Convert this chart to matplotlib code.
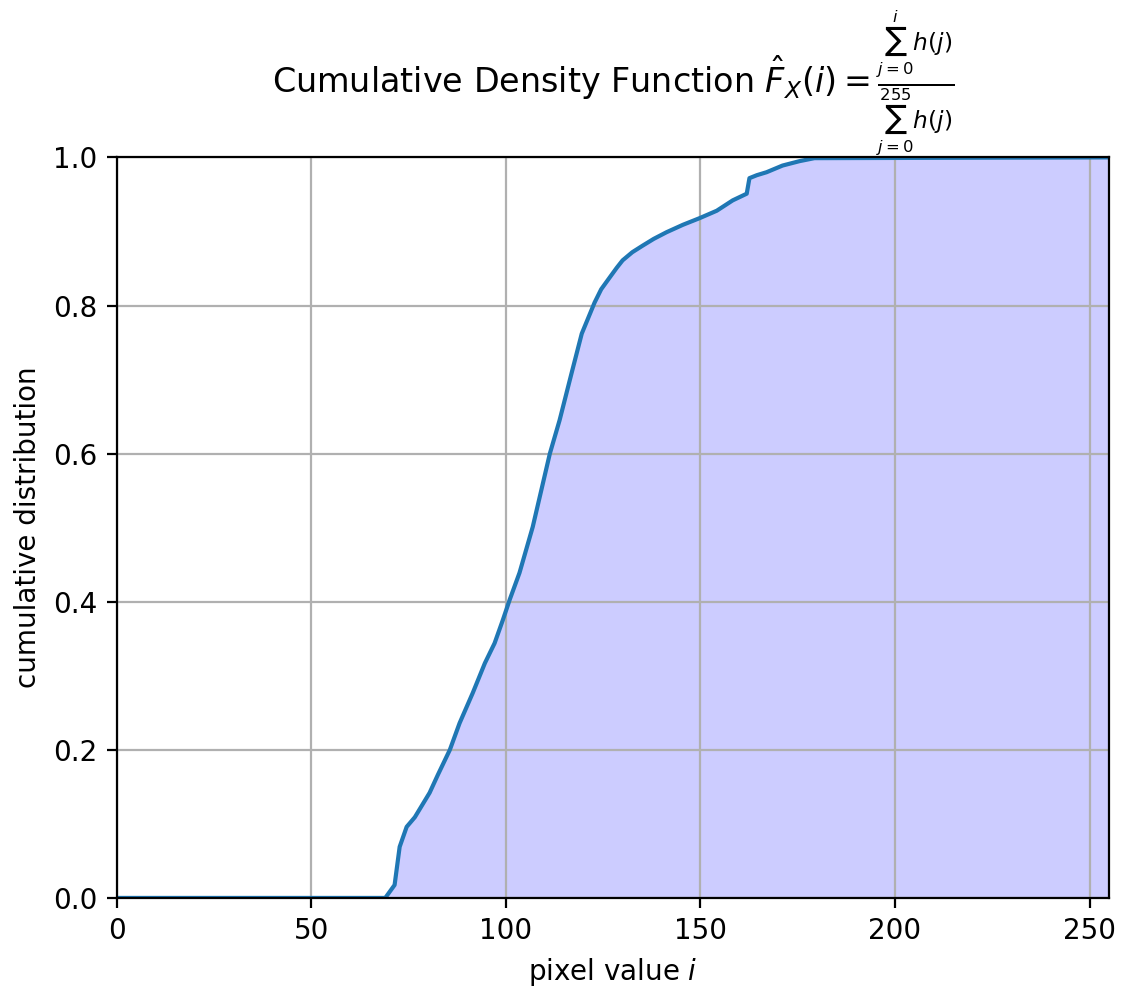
import numpy as np
import matplotlib.pyplot as plt

# pixel values and cumulative distribution
pixel_values = [0, 69, 71.4, 72.7, 74.5, 76.6, 80.4, 82.5, 85.6, 88.1, 91.5, 94.6,
                97.1, 99.2, 101, 103.5, 106.9, 111.3, 113.8, 116.9, 119.5, 122.8,
                124.5, 126.7, 128.5, 130, 132.5, 135.2, 138, 141.3, 145.5, 149.8,
                154.2, 158.3, 161.9, 162.6, 164.5, 167, 171.1, 175.5, 179.3, 255]
cdf_values = [0.0, 0.0, 0.0175, 0.069, 0.096, 0.109, 0.142, 0.166, 0.200, 0.236,
              0.277, 0.317, 0.344, 0.375, 0.403, 0.439, 0.501, 0.600, 0.645, 0.709,
              0.762, 0.804, 0.822, 0.838, 0.851, 0.861, 0.872, 0.881, 0.890, 0.899,
              0.909, 0.918, 0.928, 0.942, 0.951, 0.972, 0.976, 0.980, 0.989, 0.995,
              0.999, 1.0]

x = np.array(pixel_values)
y = np.array(cdf_values)

dpi = 200
fig = plt.figure(figsize=(1123 / dpi, 990 / dpi), dpi=dpi)
fig.subplots_adjust(left=0.104, right=0.9875, bottom=0.093, top=0.841)
ax = fig.add_subplot(111)

ax.plot(x, y, color='#1f77b4', linewidth=1.5)
ax.fill_between(x, y, color='blue', alpha=0.2, linewidth=0)

ax.set_xlim(0, 255)
ax.set_ylim(0, 1)
ax.grid(True)
ax.set_xlabel(r'pixel value $i$')
ax.set_ylabel('cumulative distribution')
ax.set_title(r'Cumulative Density Function $\hat{F}_X(i) = '
             r'\frac{\sum_{j=0}^{i} h(j)}{\sum_{j=0}^{255} h(j)}$', pad=7.5)

fig.savefig('out.png', dpi=dpi)
